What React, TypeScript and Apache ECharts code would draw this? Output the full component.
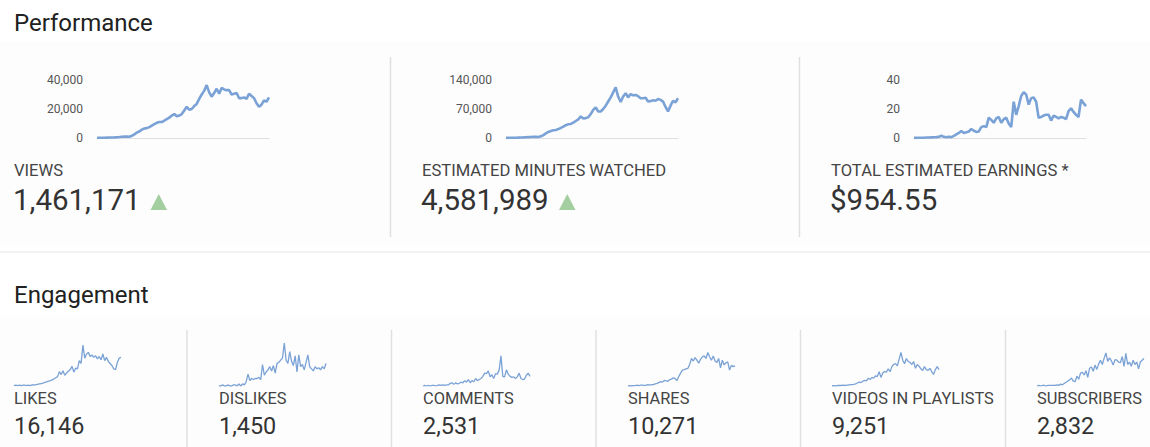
import React, { useEffect, useRef } from "react";
import * as echarts from "echarts";

// ---------- Performance series (daily values) ----------
const viewsData = [120,150,180,210,260,300,380,460,560,700,850,950,1050,900,1500,2500,3800,4500,5800,6500,6800,7500,8500,9500,10500,11000,11000,12000,13000,14000,15500,16500,15000,15500,16500,19000,21500,19500,20000,22000,23500,27000,30000,32500,36500,31500,28500,31000,34000,30500,34500,33500,33000,33000,30000,30500,31000,27500,27500,28000,27000,30500,29000,27500,24000,21500,23000,26000,25000,28000];
const minutesData = [300,400,500,600,700,900,1100,1400,1800,2100,2400,2600,2800,2500,4000,7000,11000,14500,17000,18500,19500,21500,24500,27500,31000,33000,34000,37000,41000,45000,52000,47000,48000,50000,58000,68000,74000,64000,64000,70000,78000,88000,98000,110000,122000,100000,87000,100000,108000,98000,106000,103000,104000,101000,96000,96000,97000,88000,89000,91000,90000,94000,92000,88000,75000,64000,78000,90000,86000,96000];
const earningsData = [0.1,0.1,0.2,0.2,0.2,0.3,0.3,0.4,0.5,0.6,0.8,1.5,0.8,0.5,0.8,0.6,1.5,2.5,3.5,4.8,3.5,4.0,4.5,6.2,5.0,4.2,4.5,7.5,8.2,7.5,14.0,12.5,10.5,13.5,14.5,10.5,13.0,14.0,10.0,7.5,25.0,16.0,22.0,29.0,31.5,30.0,23.0,27.5,28.0,25.0,14.0,14.5,15.5,16.0,16.0,12.0,15.5,14.5,13.5,14.5,14.0,13.0,18.5,20.5,18.0,16.0,14.5,26.5,24.0,22.0];

// ---------- Engagement series (daily values) ----------
const likesData = [4,8,4,8,4,8,8,4,8,4,13,8,13,17,21,25,29,38,42,50,54,63,71,84,96,147,117,155,109,134,151,168,201,142,184,176,260,230,419,285,327,344,302,318,293,310,277,302,268,327,260,293,251,230,210,176,168,243,285,293];
const dislikesData = [0,0,1,0,0,1,0,0,1,1,0,2,0,2,1,4,11,5,7,6,7,7,8,6,20,10,13,15,18,14,19,12,21,22,24,26,40,24,21,32,23,19,28,13,29,18,20,15,22,29,18,16,14,18,16,17,15,18,16,21];
const commentsData = [0,1,0,1,0,1,1,0,1,2,1,2,1,2,2,5,6,3,6,4,5,7,6,10,7,12,6,10,8,14,10,12,14,18,24,23,28,17,21,14,23,22,30,56,18,17,30,22,18,16,17,14,17,24,14,12,13,20,24,18];
const sharesData = [0,3,0,3,3,6,3,6,6,3,6,9,6,9,9,15,18,24,30,27,39,36,33,45,48,57,51,39,66,90,111,114,120,123,150,192,174,198,180,159,186,204,210,192,234,204,180,210,174,165,192,126,180,147,162,168,111,144,135,141];
const playlistsData = [0,3,0,3,3,3,5,3,5,5,8,8,10,13,18,23,21,29,34,31,47,39,52,47,62,57,86,52,78,88,83,104,86,117,130,135,122,161,203,156,135,166,148,143,130,148,107,130,120,104,94,117,99,94,107,86,70,99,117,99];
const subscribersData = [0,1,0,1,1,0,1,1,1,1,1,2,1,3,2,4,6,8,10,13,8,7,16,11,21,22,18,25,14,29,31,24,34,27,36,42,35,45,54,40,46,41,34,43,42,39,38,48,32,53,35,39,32,42,35,39,28,39,42,45];

// ---------- Labels ----------
const perfLabels = ["VIEWS", "ESTIMATED MINUTES WATCHED", "TOTAL ESTIMATED EARNINGS *"];
const perfTotals = ["1,461,171", "4,581,989", "$954.55"];
const perfTrendUp = [true, true, false];
const perfAxisMax = [40000, 140000, 40];
const perfAxisInterval = [20000, 70000, 20];

const engLabels = ["LIKES", "DISLIKES", "COMMENTS", "SHARES", "VIDEOS IN PLAYLISTS", "SUBSCRIBERS"];
const engTotals = ["16,146", "1,450", "2,531", "10,271", "9,251", "2,832"];
const engAxisMax = [440, 40, 80, 300, 260, 70];

const perfSeries = [viewsData, minutesData, earningsData];
const engSeries = [likesData, dislikesData, commentsData, sharesData, playlistsData, subscribersData];

// ---------- Layout ----------
const W = 1150;
const H = 447;
const FONT = "Roboto, 'Noto Sans', sans-serif";
const LINE = "#7aa2d6";
const perfLeft = [14, 422, 831];
const perfGridLeft = [97, 506, 914];
const perfGridWidth = 172;
const engLeft = [14, 219, 423, 628, 832, 1037];
const engGridWidth = 107;

export default function App() {
  const ref = useRef<HTMLDivElement>(null);

  useEffect(() => {
    if (!ref.current) return;
    const chart = echarts.init(ref.current, undefined, { renderer: "svg" });

    const grids: any[] = [];
    const xAxes: any[] = [];
    const yAxes: any[] = [];
    const series: any[] = [];

    perfSeries.forEach((d, i) => {
      grids.push({ left: perfGridLeft[i], top: 80, width: perfGridWidth, height: 58, containLabel: false });
      xAxes.push({
        type: "category",
        gridIndex: i,
        boundaryGap: false,
        data: d.map((_, k) => String(k)),
        axisLine: { show: true, lineStyle: { color: "#e0e0e0", width: 1 } },
        axisTick: { show: false },
        axisLabel: { show: false },
        splitLine: { show: false },
      });
      yAxes.push({
        type: "value",
        gridIndex: i,
        min: 0,
        max: perfAxisMax[i],
        interval: perfAxisInterval[i],
        axisLine: { show: false },
        axisTick: { show: false },
        splitLine: { show: false },
        axisLabel: {
          margin: 14,
          color: "#555",
          fontSize: 12,
          fontFamily: FONT,
          formatter: (v: number) => v.toLocaleString("en-US"),
        },
      });
      series.push({
        type: "line",
        xAxisIndex: i,
        yAxisIndex: i,
        data: d,
        showSymbol: false,
        symbol: "none",
        lineStyle: { color: LINE, width: 2.6 },
        silent: true,
      });
    });

    engSeries.forEach((d, j) => {
      const i = j + 3;
      grids.push({ left: engLeft[j], top: 343, width: engGridWidth, height: 43, containLabel: false });
      xAxes.push({
        type: "category",
        gridIndex: i,
        boundaryGap: false,
        data: d.map((_, k) => String(k)),
        show: false,
      });
      yAxes.push({ type: "value", gridIndex: i, min: 0, max: engAxisMax[j], show: false });
      series.push({
        type: "line",
        xAxisIndex: i,
        yAxisIndex: i,
        data: d,
        showSymbol: false,
        symbol: "none",
        lineStyle: { color: LINE, width: 1.3 },
        silent: true,
      });
    });

    const graphic: any[] = [
      { type: "rect", shape: { x: 0, y: 42, width: W, height: 205 }, style: { fill: "#fdfdfd" }, silent: true },
      { type: "rect", shape: { x: 0, y: 316, width: W, height: 131 }, style: { fill: "#fdfdfd" }, silent: true },
      { type: "line", shape: { x1: 0, y1: 252, x2: W, y2: 252 }, style: { stroke: "#e6e6e6", lineWidth: 1 }, silent: true },
      { type: "text", x: 14, y: 23, style: { text: "Performance", font: `24px ${FONT}`, fill: "#212121", verticalAlign: "middle" } },
      { type: "text", x: 14, y: 295, style: { text: "Engagement", font: `24px ${FONT}`, fill: "#212121", verticalAlign: "middle" } },
    ];

    [390.5, 799.5].forEach((x) => {
      graphic.push({ type: "line", shape: { x1: x, y1: 57, x2: x, y2: 237 }, style: { stroke: "#e0e0e0", lineWidth: 1.5 }, silent: true });
    });
    [187, 391.5, 596, 800.5, 1005.5].forEach((x) => {
      graphic.push({ type: "line", shape: { x1: x, y1: 330, x2: x, y2: H }, style: { stroke: "#e0e0e0", lineWidth: 1.5 }, silent: true });
    });

    perfLabels.forEach((lab, i) => {
      graphic.push({ type: "text", x: perfLeft[i], y: 170, style: { text: lab, font: `16.6px ${FONT}`, fill: "#444", verticalAlign: "middle" } });
      graphic.push({ type: "text", x: perfLeft[i] - 1, y: 200, style: { text: perfTotals[i], font: `29.5px ${FONT}`, fill: "#333", verticalAlign: "middle" } });
    });
    // trend arrows
    const trendX = [150.5, 559];
    perfTrendUp.forEach((up, i) => {
      if (!up) return;
      const x = trendX[i];
      graphic.push({
        type: "polygon",
        shape: { points: [[x, 210], [x + 16.5, 210], [x + 8.25, 194]] },
        style: { fill: "#a3cfa0" },
        silent: true,
      });
    });

    engLabels.forEach((lab, j) => {
      graphic.push({ type: "text", x: engLeft[j], y: 398, style: { text: lab, font: `16.4px ${FONT}`, fill: "#444", verticalAlign: "middle" } });
      graphic.push({ type: "text", x: engLeft[j], y: 425.5, style: { text: engTotals[j], font: `23.4px ${FONT}`, fill: "#333", verticalAlign: "middle" } });
    });

    chart.setOption({
      animation: false,
      backgroundColor: "#ffffff",
      grid: grids,
      xAxis: xAxes,
      yAxis: yAxes,
      series,
      graphic,
    });

    return () => chart.dispose();
  }, []);

  return <div ref={ref} style={{ position: "fixed", left: 0, top: 0, width: W, height: H }} />;
}
